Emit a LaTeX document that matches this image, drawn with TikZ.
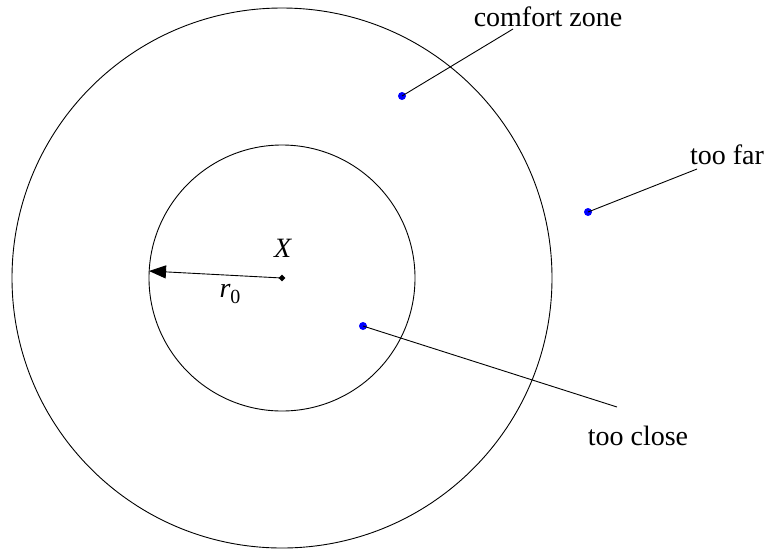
\documentclass[tikz,border=0pt]{standalone}
\usepackage{fontspec}
\setmainfont{Liberation Serif}
\newfontfamily\lserif{Liberation Serif}
\usetikzlibrary{arrows.meta,shapes.geometric}
\begin{document}
\begin{tikzpicture}[x=1pt,y=-1pt,
  ring/.style={draw=black,line width=0.9pt},
  bluedot/.style={circle,fill=blue,inner sep=0pt,minimum size=8pt},
  centerdot/.style={diamond,fill=black,inner sep=0pt,minimum size=7pt},
  lbl/.style={font=\lserif\fontsize{28}{34}\selectfont,inner sep=0pt},
  leader/.style={draw=black,line width=0.9pt}]
\useasboundingbox (0,0) rectangle (770,550);
\draw[ring] (282,278) circle[radius=270];
\draw[ring] (282,278) circle[radius=133];
\node[centerdot] (c) at (282,278) {};
\coordinate (tip) at (149,271);
\draw[line width=0.9pt,-{Triangle[length=17pt,width=13pt]}] (c.center) -- (tip);
\node[lbl] (X) at (283,248) {\textit{X}};
\node[lbl] (r) at (230,294) {\textit{r}\raisebox{-0.22em}{\fontsize{20}{20}\selectfont 0}};
\node[bluedot] (d1) at (402,96) {};
\coordinate (e1) at (513,29);
\node[lbl] (t1) at (548,17) {comfort zone};
\draw[leader] (d1.center) -- (e1);
\node[bluedot] (d2) at (588,212) {};
\coordinate (e2) at (697,169);
\node[lbl] (t2) at (727,155) {too far};
\draw[leader] (d2.center) -- (e2);
\node[bluedot] (d3) at (363,326) {};
\coordinate (e3) at (617,407);
\node[lbl] (t3) at (638,436) {too close};
\draw[leader] (d3.center) -- (e3);
\end{tikzpicture}
\end{document}
